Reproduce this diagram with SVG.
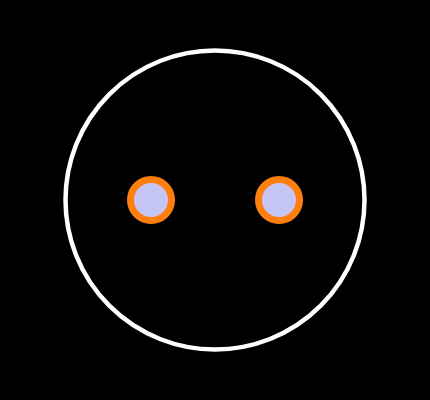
<svg xmlns="http://www.w3.org/2000/svg" width="430" height="400" viewBox="0 0 430 400">
<style>
.outer{fill:none;stroke:#ffffff;stroke-width:4.5}
.dot{fill:#c6c6f6;stroke:#ff7f0e;stroke-width:7}
</style>
<rect width="430" height="400" fill="#000000"/>
<g id="outer"><circle class="outer" cx="215" cy="200" r="149.5"/></g>
<g id="left"><circle class="dot" cx="151" cy="200" r="20.5"/></g>
<g id="right"><circle class="dot" cx="279" cy="200" r="20.5"/></g>
<g id="connectors"></g>
</svg>
